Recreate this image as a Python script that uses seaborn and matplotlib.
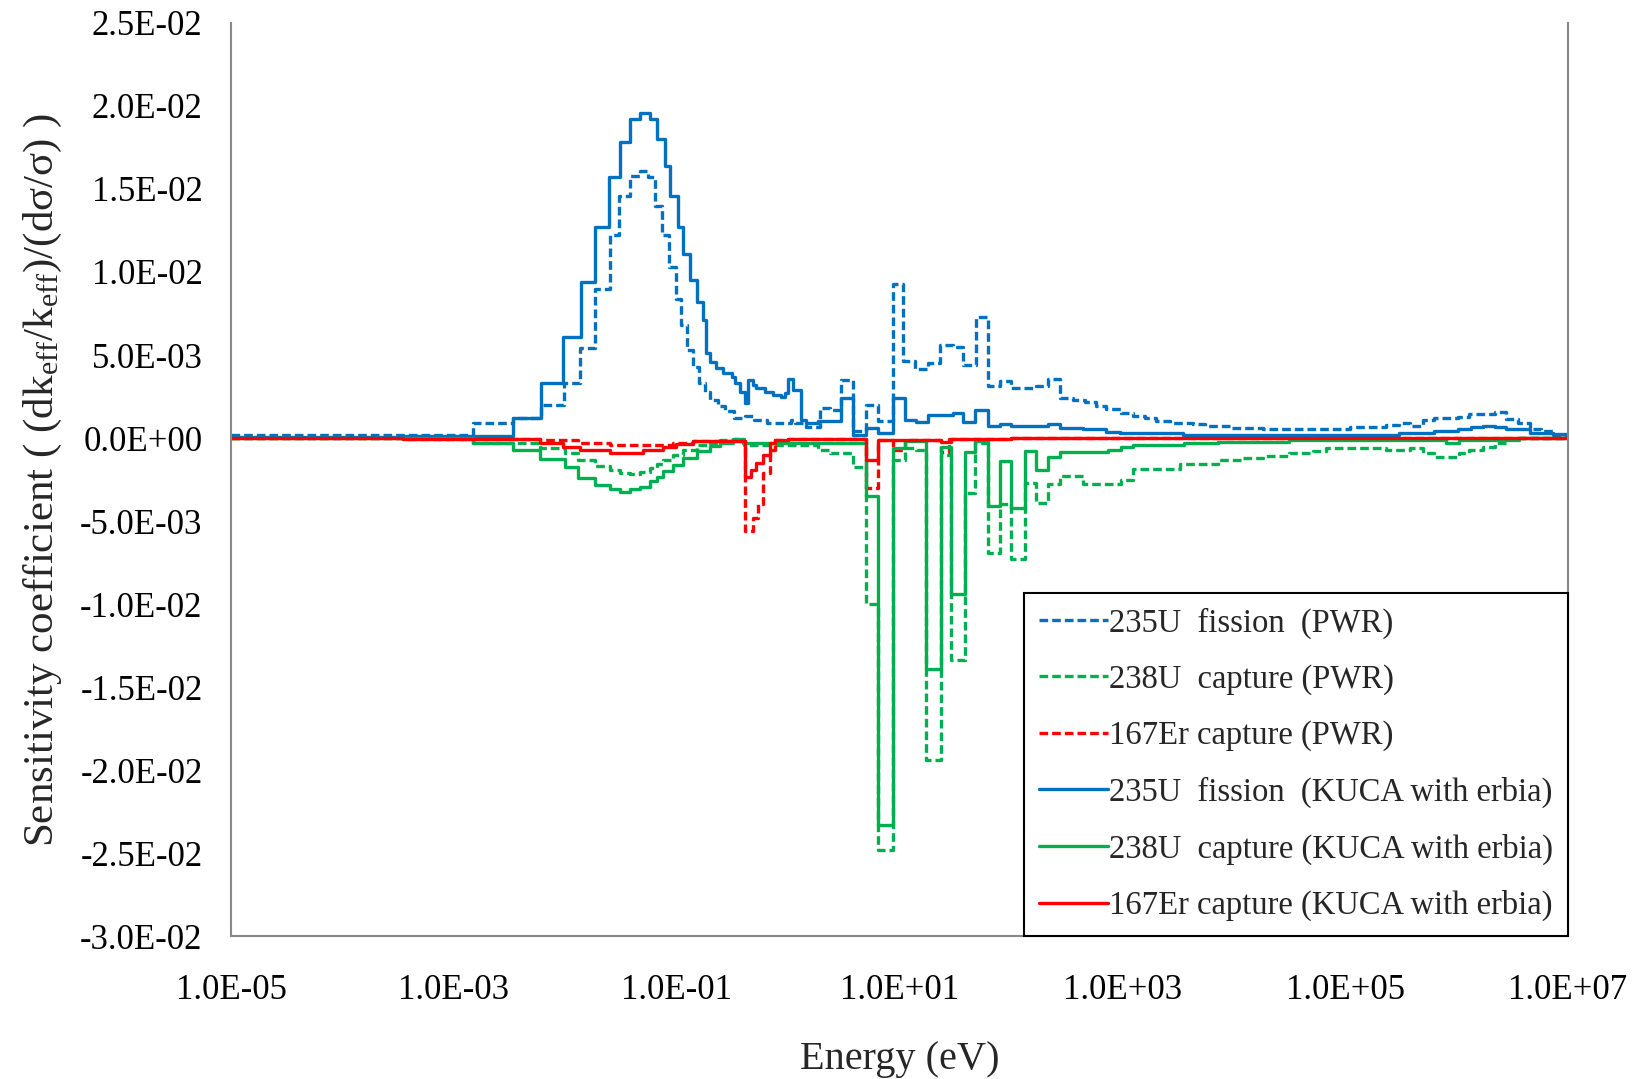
import numpy as np
import pandas as pd
import matplotlib
matplotlib.use('Agg')
import matplotlib.pyplot as plt
from matplotlib.ticker import FixedLocator, FuncFormatter, NullLocator
import seaborn as sns

# Group boundaries are log10(E / eV); each value holds until the next boundary (x 1E-3)
pwr_u235_edges = [-5.0, -2.83, -2.47, -2.22, -2.01, -1.87, -1.735, -1.60, -1.517, -1.42, -1.33,
                  -1.257, -1.196, -1.136, -1.068, -1.002, -0.957, -0.912, -0.853, -0.80, -0.75,
                  -0.70, -0.63, -0.57, -0.49, -0.39, -0.31, -0.19, 0.03, 0.06, 0.165, 0.284,
                  0.374, 0.479, 0.583, 0.703, 0.807, 0.942, 1.032, 1.136, 1.256, 1.361, 1.48,
                  1.57, 1.69, 1.794, 1.899, 2.004, 2.228, 2.332, 2.437, 2.557, 2.662, 2.767,
                  2.856, 2.99, 3.095, 3.2, 3.305, 3.424, 3.634, 3.738, 3.963, 4.262, 4.80,
                  5.04, 5.369, 5.488, 5.578, 5.697, 5.802, 6.011, 6.116, 6.341, 6.446, 6.55,
                  6.655, 6.76, 6.864, 6.969, 7.0]
pwr_u235_vals = [0.2, 0.9, 1.2, 2.0, 3.3, 5.4, 9.0, 12.2, 14.6, 15.8, 16.1, 15.7, 14.0, 12.2,
                 10.3, 8.4, 6.8, 5.3, 4.3, 3.3, 2.8, 2.3, 1.9, 1.6, 1.2, 1.3, 1.08, 0.88, 1.1,
                 0.88, 0.68, 1.8, 1.7, 3.5, 0.4, 2.0, 1.05, 9.3, 4.66, 4.18, 4.54, 5.61, 5.49,
                 4.42, 7.28, 3.11, 3.46, 2.99, 3.11, 3.58, 2.39, 2.27, 2.15, 1.93, 1.73, 1.49,
                 1.33, 1.22, 1.04, 0.92, 0.84, 0.72, 0.62, 0.52, 0.57, 0.68, 0.78, 0.92, 0.72,
                 1.08, 1.19, 1.28, 1.43, 1.55, 1.12, 0.92, 0.57, 0.44, 0.18, 0.05]

pwr_u238_edges = [-5.0, -2.83, -2.23, -2.0, -1.885, -1.735, -1.60, -1.51, -1.42, -1.33, -1.24,
                  -1.18, -1.12, -1.03, -0.94, -0.82, -0.70, -0.61, -0.49, -0.40, 0.27, 0.374,
                  0.583, 0.703, 0.807, 0.942, 1.047, 1.152, 1.242, 1.37, 1.466, 1.585, 1.675,
                  1.794, 1.899, 2.004, 2.123, 2.228, 2.332, 2.437, 2.647, 2.99, 3.095, 3.514,
                  3.858, 4.067, 4.291, 4.5, 4.709, 4.829, 5.369, 5.578, 5.697, 5.802, 6.026,
                  6.116, 6.235, 6.341, 6.446, 6.565, 7.0]
pwr_u238_vals = [-0.02, -0.28, -0.58, -0.92, -1.33, -1.69, -1.93, -2.09, -2.17, -2.03, -1.8,
                 -1.55, -1.3, -1.0, -0.7, -0.45, -0.28, -0.15, -0.08, -0.45, -0.72, -0.9, -1.74,
                 -10.0, -24.8, -1.33, -0.62, -0.72, -19.4, -1.0, -13.4, -3.3, -0.3, -6.9, -4.0,
                 -7.3, -2.7, -3.9, -2.8, -2.29, -2.8, -2.5, -1.89, -1.57, -1.33, -1.23, -1.08,
                 -0.92, -0.78, -0.62, -0.72, -0.62, -0.92, -1.12, -0.88, -0.72, -0.52, -0.28,
                 -0.08, 0.0]

pwr_er167_edges = [-5.0, -3.46, -2.23, -1.885, -1.60, -1.03, -0.85, -0.49, -0.389, -0.314,
                   -0.269, -0.224, -0.164, -0.12, 0.0, 0.703, 0.807, 0.942, 1.047, 1.37, 1.44,
                   2.0, 7.0]
pwr_er167_vals = [-0.02, -0.05, -0.12, -0.28, -0.45, -0.28, -0.16, -0.2, -5.6, -4.8, -3.95,
                  -2.13, -0.72, -0.1, -0.05, -3.0, -0.1, -0.72, -0.1, -0.85, -0.05, -0.02]

kuca_u235_edges = [-5.0, -3.46, -2.468, -2.222, -2.019, -1.863, -1.732, -1.607, -1.510, -1.421,
                   -1.325, -1.241, -1.181, -1.107, -1.056, -0.987, -0.942, -0.882, -0.822,
                   -0.768, -0.739, -0.703, -0.643, -0.584, -0.508, -0.479, -0.434, -0.389,
                   -0.359, -0.314, -0.284, -0.209, -0.135, -0.060, -0.030, 0.0, 0.045, 0.12,
                   0.165, 0.27, 0.479, 0.583, 0.703, 0.807, 0.942, 1.047, 1.152, 1.256, 1.48,
                   1.57, 1.675, 1.794, 1.899, 2.004, 2.332, 2.437, 2.647, 2.856, 2.976, 3.544,
                   5.488, 5.802, 6.011, 6.131, 6.235, 6.341, 6.446, 6.655, 6.864, 7.0]
kuca_u235_vals = [0.05, 0.15, 1.19, 3.3, 6.07, 9.4, 12.7, 15.7, 17.85, 19.2, 19.6, 19.2, 18.0,
                  16.4, 14.6, 12.7, 11.07, 9.5, 8.2, 7.1, 5.1, 4.6, 4.2, 3.9, 3.7, 3.3, 2.8, 2.1,
                  3.5, 3.2, 3.0, 2.8, 2.6, 2.5, 2.7, 3.55, 2.88, 1.1, 0.9, 1.05, 2.43, 0.2, 0.6,
                  0.3, 2.43, 1.1, 0.96, 1.37, 1.51, 0.96, 1.68, 0.72, 0.84, 0.72, 0.84, 0.6, 0.52,
                  0.38, 0.28, 0.18, 0.28, 0.42, 0.52, 0.64, 0.72, 0.64, 0.52, 0.32, 0.22]

kuca_u238_edges = [-5.0, -2.827, -2.468, -2.228, -2.004, -1.885, -1.735, -1.60, -1.51, -1.421,
                   -1.331, -1.241, -1.181, -1.122, -1.032, -0.942, -0.822, -0.703, -0.613,
                   -0.494, -0.404, 0.703, 0.807, 0.942, 1.047, 1.242, 1.37, 1.466, 1.585, 1.675,
                   1.794, 1.899, 2.004, 2.123, 2.228, 2.332, 2.437, 2.871, 2.991, 3.095, 3.55,
                   3.858, 4.5, 5.906, 6.026, 6.565, 7.0]
kuca_u238_vals = [-0.02, -0.28, -0.72, -1.28, -1.73, -2.43, -2.83, -3.09, -3.23, -3.1, -2.93,
                  -2.6, -2.33, -2.0, -1.6, -1.2, -0.8, -0.5, -0.28, -0.08, -0.32, -3.47, -23.3,
                  -0.6, -0.2, -13.9, -0.56, -9.4, -0.87, -0.2, -4.1, -1.4, -4.2, -0.77, -1.9,
                  -1.17, -0.87, -0.7, -0.56, -0.45, -0.32, -0.22, -0.12, -0.28, -0.15, 0.0]

kuca_er167_edges = [-5.0, -3.46, -2.228, -2.019, -1.869, -1.60, -1.301, -1.122, -1.002, -0.853,
                    -0.524, -0.389, -0.329, -0.284, -0.224, -0.164, -0.12, 0.0, 0.703, 0.807,
                    1.37, 1.466, 2.0, 7.0]
kuca_er167_vals = [-0.02, -0.08, -0.28, -0.52, -0.72, -0.92, -0.72, -0.52, -0.35, -0.16, -0.2,
                   -2.33, -1.93, -1.53, -1.02, -0.32, -0.1, -0.05, -1.33, -0.1, -0.26, -0.05,
                   -0.02]

labels = ['235U  fission  (PWR)', '238U  capture (PWR)', '167Er capture (PWR)',
          '235U  fission  (KUCA with erbia)', '238U  capture (KUCA with erbia)',
          '167Er capture (KUCA with erbia)']

blue, green, red = '#0070C0', '#00B050', '#FF0000'
dash = (0, (2.6, 1.2))

series = [
    (pwr_u235_edges, pwr_u235_vals, blue, dash),
    (pwr_u238_edges, pwr_u238_vals, green, dash),
    (pwr_er167_edges, pwr_er167_vals, red, dash),
    (kuca_u235_edges, kuca_u235_vals, blue, '-'),
    (kuca_u238_edges, kuca_u238_vals, green, '-'),
    (kuca_er167_edges, kuca_er167_vals, red, '-'),
]

sns.set_style('white')
plt.rcParams['font.family'] = ['Liberation Serif', 'DejaVu Serif']
plt.rcParams['mathtext.fontset'] = 'custom'
plt.rcParams['mathtext.rm'] = 'Liberation Serif'
plt.rcParams['mathtext.it'] = 'Liberation Serif:italic'

fig = plt.figure(figsize=(16.47, 10.79), dpi=100)
ax = fig.add_axes([0.1403, 0.1325, 0.8117, 0.8462])

for (edges, vals, color, ls), label in zip(series, labels):
    df = pd.DataFrame({
        'energy': 10.0 ** np.array(edges),
        'sens': np.array(vals + [vals[-1]]) * 1e-3,
    })
    sns.lineplot(data=df, x='energy', y='sens', ax=ax, estimator=None,
                 drawstyle='steps-post', color=color, linestyle=ls,
                 linewidth=2.4, label=label)

ax.set_xscale('log')
ax.set_xlim(1e-5, 1e7)
ax.set_ylim(-0.03, 0.025)
ax.xaxis.set_major_locator(FixedLocator([1e-5, 1e-3, 1e-1, 1e1, 1e3, 1e5, 1e7]))
ax.xaxis.set_minor_locator(NullLocator())
ax.yaxis.set_major_locator(FixedLocator([-0.03, -0.025, -0.02, -0.015, -0.01, -0.005, 0.0,
                                         0.005, 0.01, 0.015, 0.02, 0.025]))
ax.xaxis.set_major_formatter(FuncFormatter(lambda v, p: f"{v:.1E}"))
ax.yaxis.set_major_formatter(FuncFormatter(lambda v, p: f"{0.0 if abs(v) < 1e-12 else v:.1E}"))

ax.tick_params(axis='both', direction='out', length=7.5, width=1.2, colors='#888888',
               labelcolor='black', labelsize=25)
ax.tick_params(axis='y', pad=13)
ax.tick_params(axis='x', pad=20)
for side in ['left', 'bottom', 'right']:
    ax.spines[side].set_color('#888888')
    ax.spines[side].set_linewidth(1.5)
ax.spines['top'].set_visible(False)

ax.set_xlabel('Energy (eV)', fontsize=29, labelpad=24)
ax.set_ylabel('Sensitivity coefficient ( (dk$_{\\mathrm{eff}}$/k$_{\\mathrm{eff}}$)/(dσ/σ) )',
              fontsize=31, labelpad=12)

leg = ax.legend(loc='lower right', borderaxespad=0, fontsize=23.5, frameon=True,
                fancybox=False, edgecolor='black', framealpha=1, handlelength=2.1,
                handletextpad=0.05, labelspacing=0.78, borderpad=0.45)
leg.get_frame().set_linewidth(1.5)

fig.savefig('out.png', dpi=100)
